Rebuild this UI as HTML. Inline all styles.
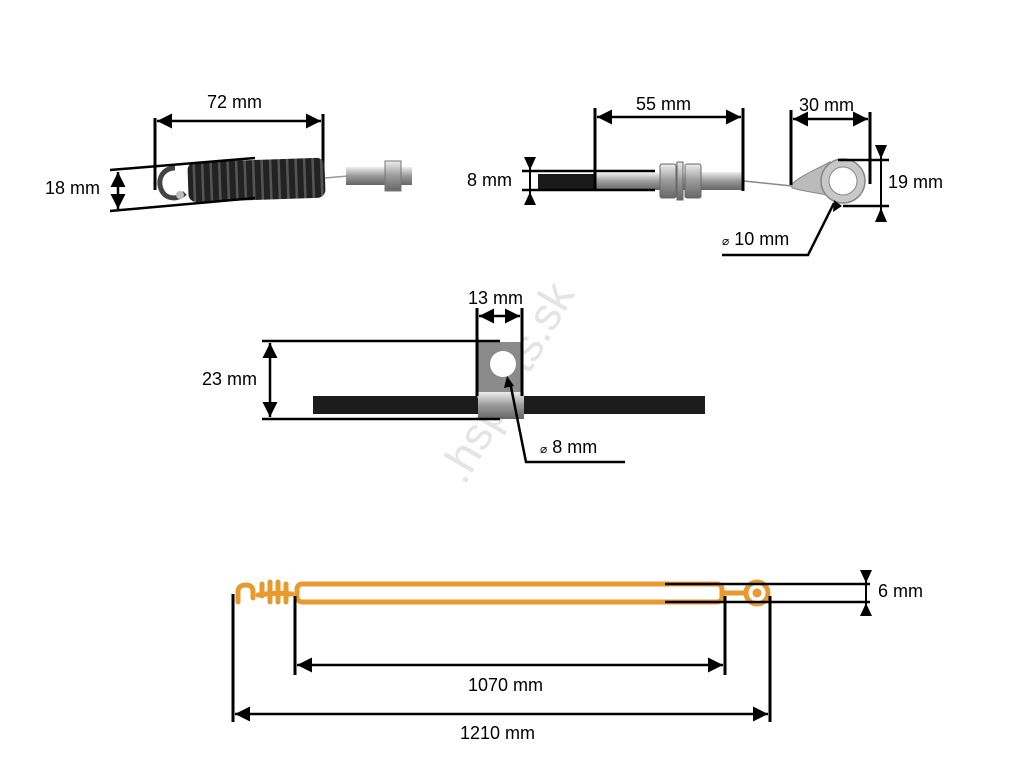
<!DOCTYPE html>
<html><head><meta charset="utf-8"><style>
html,body{margin:0;padding:0;background:#fff;width:1024px;height:768px;overflow:hidden}
svg text{font-family:"Liberation Sans",sans-serif;font-size:18px;fill:#000}
</style></head><body>
<svg width="1024" height="768" viewBox="0 0 1024 768" xmlns="http://www.w3.org/2000/svg">
<defs>
<marker id="a" viewBox="0 0 10 10" refX="10" refY="5" markerWidth="6" markerHeight="6" orient="auto-start-reverse"><path d="M0,0L10,5L0,10z" fill="#000"/></marker>
<linearGradient id="met" x1="0" y1="0" x2="0" y2="1"><stop offset="0" stop-color="#eee"/><stop offset=".5" stop-color="#999"/><stop offset="1" stop-color="#666"/></linearGradient>
<pattern id="coil" width="8.5" height="10" patternUnits="userSpaceOnUse"><rect width="8.5" height="10" fill="#222"/><rect x="6" width="2.5" height="10" fill="#555"/></pattern>
</defs>

<!-- watermark -->
<text x="520" y="390" transform="rotate(-60 520 390)" text-anchor="middle" style="font-size:46px;fill:#e4e4e4">.hsparts.sk</text>

<!-- ===== Spring (top-left) ===== -->
<g stroke="#000" stroke-width="3" fill="none">
<line x1="155" y1="118" x2="155" y2="190"/>
<line x1="323" y1="114" x2="323" y2="190"/>
<line x1="157" y1="121" x2="321" y2="121" marker-start="url(#a)" marker-end="url(#a)" stroke-width="2.5"/>
</g>
<path d="M175,168 C160,168 155,185 165,195 C172,200 180,198 185,193" stroke="#444" stroke-width="5" fill="none"/>
<circle cx="180" cy="195" r="4" fill="#bbb"/>
<g transform="rotate(-2 255 180)">
<rect x="188" y="160" width="137" height="40" rx="8" fill="url(#coil)"/>
</g>
<line x1="325" y1="178" x2="348" y2="176" stroke="#999" stroke-width="1.5"/>
<rect x="346" y="167" width="66" height="18" fill="url(#met)"/>
<rect x="385" y="161" width="16" height="30" fill="url(#met)" stroke="#777"/>
<g stroke="#000" stroke-width="2.5">
<line x1="110" y1="170" x2="255" y2="158"/>
<line x1="110" y1="211" x2="255" y2="198"/>
<line x1="118" y1="172" x2="118" y2="209" marker-start="url(#a)" marker-end="url(#a)"/>
</g>
<text x="45" y="194">18 mm</text>
<text x="207" y="108">72 mm</text>

<!-- ===== Cable end (top-right) ===== -->
<rect x="538" y="174" width="58" height="16" fill="#1a1a1a"/>
<rect x="596" y="173" width="64" height="17" fill="url(#met)"/>
<rect x="660" y="172" width="84" height="18" fill="url(#met)"/>
<rect x="660" y="164" width="16" height="34" rx="2" fill="url(#met)" stroke="#666"/>
<rect x="677" y="162" width="6" height="38" fill="url(#met)" stroke="#666"/>
<rect x="685" y="164" width="16" height="34" rx="2" fill="url(#met)" stroke="#666"/>
<line x1="744" y1="181" x2="792" y2="186" stroke="#888" stroke-width="1.5"/>
<path d="M792,184 C800,176 815,170 830,162 L845,200 C830,194 805,192 792,188 Z" fill="#bbb" stroke="#888"/>
<circle cx="843" cy="181" r="22" fill="#c8c8c8" stroke="#888" stroke-width="1.5"/>
<circle cx="843" cy="181" r="14" fill="#fff" stroke="#888"/>
<g stroke="#000" stroke-width="3" fill="none">
<line x1="522" y1="171" x2="655" y2="171" stroke-width="2.5"/>
<line x1="522" y1="190" x2="655" y2="190" stroke-width="2.5"/>
<line x1="595" y1="108" x2="595" y2="191"/>
<line x1="743" y1="108" x2="743" y2="191"/>
<line x1="597" y1="117" x2="741" y2="117" marker-start="url(#a)" marker-end="url(#a)" stroke-width="2.5"/>
<line x1="791" y1="110" x2="791" y2="185"/>
<line x1="870" y1="112" x2="870" y2="184"/>
<line x1="793" y1="119" x2="868" y2="119" marker-start="url(#a)" marker-end="url(#a)" stroke-width="2.5"/>
<line x1="838" y1="160" x2="889" y2="160" stroke-width="2.5"/>
<line x1="843" y1="206" x2="889" y2="206" stroke-width="2.5"/>
<line x1="881" y1="145" x2="881" y2="222" stroke-width="2"/>
<line x1="530" y1="158" x2="530" y2="205" stroke-width="2"/>
<polyline points="722,255 808,255 834,203" stroke-width="2.5"/>
</g>
<path d="M524,157h12l-6,13z M524,205h12l-6,-13z M875,145h12l-6,14z M875,222h12l-6,-14z M834,200l-1,12l9,-6z" fill="#000"/>
<text x="467" y="186">8 mm</text>
<text x="636" y="110">55 mm</text>
<text x="799" y="111">30 mm</text>
<text x="888" y="188">19 mm</text>
<text x="722" y="245"><tspan style="font-size:12px">⌀</tspan> 10 mm</text>

<!-- ===== Bracket (middle) ===== -->
<rect x="313" y="396" width="392" height="18" fill="#1c1c1c"/>
<rect x="477" y="342" width="45" height="56" fill="#8a8a8a"/>
<circle cx="503" cy="364" r="13" fill="#fff"/>
<rect x="478" y="392" width="46" height="27" fill="url(#met)"/>
<g stroke="#000" stroke-width="3" fill="none">
<line x1="477" y1="308" x2="477" y2="396"/>
<line x1="522" y1="308" x2="522" y2="396"/>
<line x1="479" y1="316" x2="520" y2="316" marker-start="url(#a)" marker-end="url(#a)" stroke-width="2.5"/>
<line x1="262" y1="341" x2="500" y2="341" stroke-width="2.5"/>
<line x1="262" y1="419" x2="500" y2="419" stroke-width="2.5"/>
<line x1="270" y1="343" x2="270" y2="417" marker-start="url(#a)" marker-end="url(#a)" stroke-width="2.5"/>
<polyline points="510,382 526,462 625,462" stroke-width="2.5"/>
</g>
<path d="M507,376l-3,12l10,-2z" fill="#000"/>
<text x="468" y="304">13 mm</text>
<text x="202" y="385">23 mm</text>
<text x="540" y="453"><tspan style="font-size:12px">⌀</tspan> 8 mm</text>

<!-- ===== Bottom orange schematic ===== -->
<g stroke="#e89a2c" stroke-width="5" fill="none" stroke-linecap="round">
<rect x="297" y="584" width="425" height="18" rx="5"/>
<path d="M238,602 V592 Q238,585 246,585 Q253,585 253,592 V598"/>
<path d="M262,596 V584 M270,602 V582 M278,602 V582 M286,602 V584 M258,595 Q275,592 292,594"/>
<line x1="722" y1="593" x2="745" y2="593"/>
<circle cx="757" cy="593" r="11"/>
</g>
<circle cx="757" cy="593" r="4.5" fill="#e89a2c"/>
<g stroke="#000" stroke-width="2.5" fill="none">
<line x1="665" y1="584" x2="870" y2="584"/>
<line x1="665" y1="602" x2="870" y2="602"/>
<line x1="866" y1="570" x2="866" y2="616" stroke-width="2"/>
<line x1="233" y1="594" x2="233" y2="722" stroke-width="3"/>
<line x1="295" y1="596" x2="295" y2="675" stroke-width="3"/>
<line x1="725" y1="596" x2="725" y2="675" stroke-width="3"/>
<line x1="770" y1="596" x2="770" y2="722" stroke-width="3"/>
<line x1="297" y1="665" x2="723" y2="665" marker-start="url(#a)" marker-end="url(#a)"/>
<line x1="235" y1="714" x2="768" y2="714" marker-start="url(#a)" marker-end="url(#a)"/>
</g>
<path d="M860,570h12l-6,13z M860,616h12l-6,-13z" fill="#000"/>
<text x="878" y="597">6 mm</text>
<text x="468" y="691">1070 mm</text>
<text x="460" y="739">1210 mm</text>
</svg>
</body></html>
